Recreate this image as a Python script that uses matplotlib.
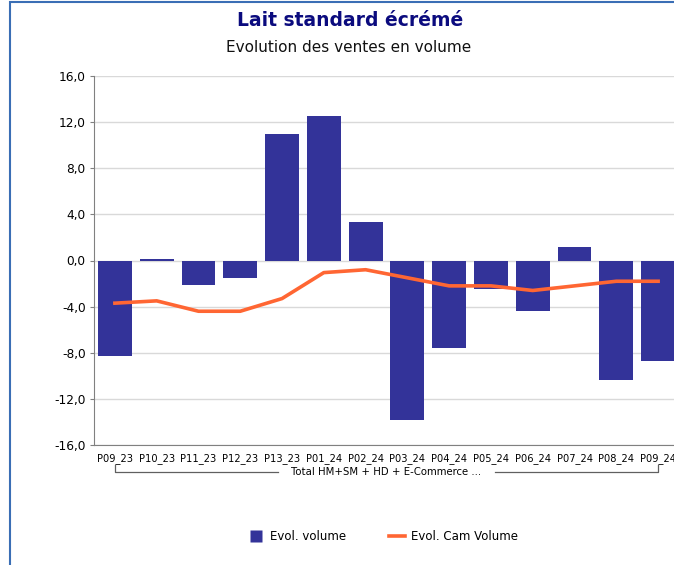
import matplotlib.pyplot as plt
from matplotlib.lines import Line2D
from matplotlib.patches import Rectangle

plt.rcParams['font.family'] = ['DejaVu Sans']

# periods and the two series
periods = ['P09_23', 'P10_23', 'P11_23', 'P12_23', 'P13_23', 'P01_24', 'P02_24',
           'P03_24', 'P04_24', 'P05_24', 'P06_24', 'P07_24', 'P08_24', 'P09_24']
evol_volume = [-8.3, 0.1, -2.1, -1.5, 11.0, 12.5, 3.3,
               -13.8, -7.6, -2.5, -4.4, 1.2, -10.4, -8.7]
evol_cam_volume = [-3.7, -3.5, -4.4, -4.4, -3.3, -1.05, -0.8,
                   -1.5, -2.2, -2.2, -2.6, -2.2, -1.8, -1.8]
yticks = [-16, -12, -8, -4, 0, 4, 8, 12, 16]
group_label = 'Total HM+SM + HD + E-Commerce ...'

bar_color = '#333399'
line_color = '#FF6633'

fig = plt.figure(figsize=(6.74, 5.65), dpi=100)
W, H = 674, 565

# blue frame around the chart (runs off the right and bottom edges)
fig.patches.append(Rectangle((10 / W, -0.05), 1.1, 1 - 2 / H + 0.05, transform=fig.transFigure,
                             fill=False, edgecolor='#3A6EB5', linewidth=1.5))

ax = fig.add_axes([94 / W, 1 - 445 / H, 585 / W, 369 / H])

x = list(range(len(periods)))
ax.bar(x, evol_volume, width=0.81, color=bar_color, zorder=2)
ax.plot(x, evol_cam_volume, color=line_color, linewidth=2.6, zorder=3)

ax.set_xlim(-0.5, len(periods) - 0.5)
ax.set_ylim(-16, 16)
ax.set_yticks(yticks)
ax.set_yticklabels([f'{v:.1f}'.replace('.', ',') for v in yticks], fontsize=8.7)
ax.yaxis.grid(True, color='#D9D9D9', linewidth=1, zorder=0)
ax.tick_params(axis='y', length=3, color='#808080', pad=3)
ax.set_xticks(x)
ax.set_xticklabels(periods, fontsize=7.1)
ax.tick_params(axis='x', length=0, pad=6)
for side in ['top', 'right']:
    ax.spines[side].set_visible(False)
for side in ['left', 'bottom']:
    ax.spines[side].set_color('#808080')

# bracket under the category labels for the group
tr = ax.get_xaxis_transform()
y_top, y_bot = -0.054, -0.073
ax.add_line(Line2D([0, 0, 3.9], [y_top, y_bot, y_bot], transform=tr, color='#606060',
                   linewidth=0.9, clip_on=False))
ax.add_line(Line2D([9.1, 13, 13], [y_bot, y_bot, y_top], transform=tr, color='#606060',
                   linewidth=0.9, clip_on=False))
ax.text(6.5, y_bot, group_label, transform=tr, ha='center', va='center', fontsize=7.3)

fig.text(350 / W, 1 - 20 / H, 'Lait standard écrémé', ha='center', va='center',
         fontsize=13.5, fontweight='bold', color='#0B0B7E')
fig.text(349 / W, 1 - 48 / H, 'Evolution des ventes en volume', ha='center', va='center',
         fontsize=11, color='#111111')

handles = [Line2D([0], [0], marker='s', linestyle='none', markersize=9,
                  markerfacecolor=bar_color, markeredgecolor='none'),
           Line2D([0], [0], color=line_color, linewidth=2.6)]
fig.legend(handles, ['Evol. volume', 'Evol. Cam Volume'], loc='center',
           bbox_to_anchor=(383 / W, 1 - 537 / H), ncol=2, frameon=False, fontsize=8.5,
           handlelength=1.35, columnspacing=3.6, handletextpad=0.5)

fig.savefig('out.png', dpi=100)
